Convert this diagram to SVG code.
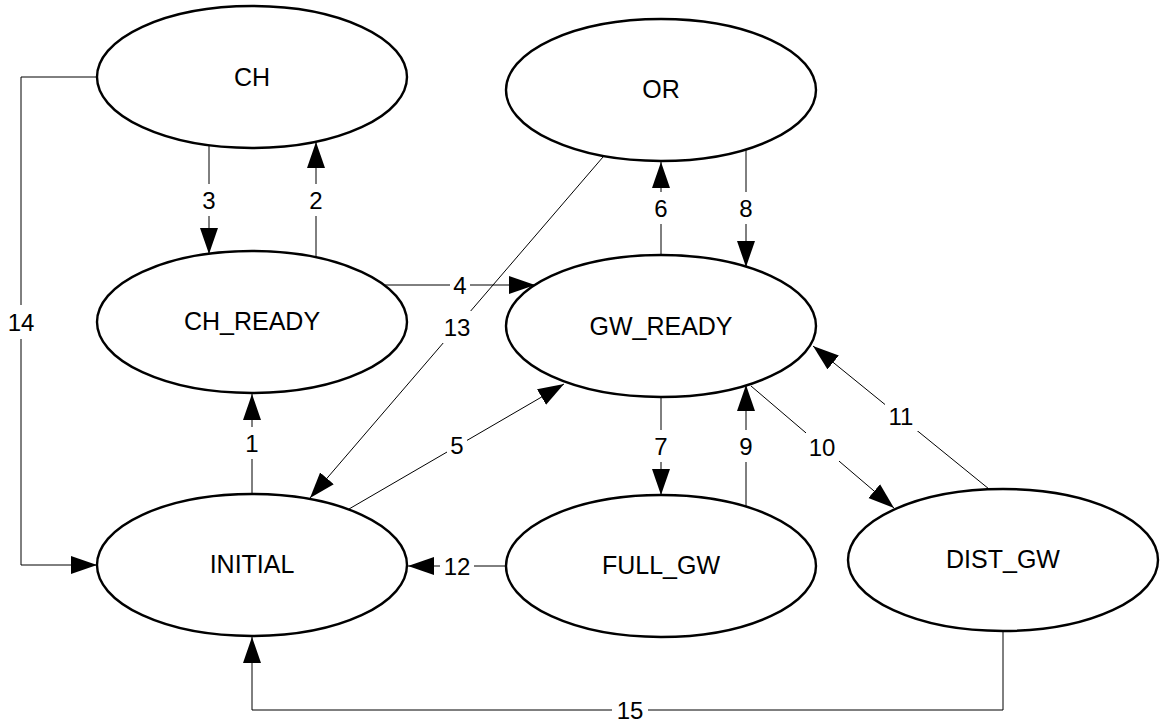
<svg xmlns="http://www.w3.org/2000/svg" width="1160" height="723" viewBox="0 0 1160 723">
  <style>
    .node { fill: #fff; stroke: #000; stroke-width: 2.4; }
    .ntext { font-family: "Liberation Sans", Arial, sans-serif; font-size: 25px; fill: #000; text-anchor: middle; }
    .edge { fill: none; stroke: #000; stroke-width: 1; }
    .lbg { fill: #fff; stroke: none; }
    .ltext { font-family: "Liberation Sans", Arial, sans-serif; font-size: 24px; fill: #000; text-anchor: middle; }
  </style>
  <defs>
    <marker id="arrow" markerUnits="userSpaceOnUse" markerWidth="27" markerHeight="19" refX="26" refY="9.5" orient="auto">
      <path d="M0,0.5 L26,9.5 L0,18.5 z" fill="#000"/>
    </marker>
  </defs>
  <rect width="1160" height="723" fill="#fff"/>

  <!-- transitions -->
  <g id="connectors">
    <line id="e1" class="edge" x1="252" y1="494" x2="252" y2="394" marker-end="url(#arrow)"/>
    <line id="e2" class="edge" x1="316" y1="257" x2="316" y2="142" marker-end="url(#arrow)"/>
    <line id="e3" class="edge" x1="209" y1="145" x2="209" y2="254" marker-end="url(#arrow)"/>
    <line id="e4" class="edge" x1="384" y1="285" x2="535" y2="285" marker-end="url(#arrow)"/>
    <line id="e5" class="edge" x1="349" y1="509" x2="564" y2="384" marker-end="url(#arrow)"/>
    <line id="e6" class="edge" x1="661" y1="255" x2="661" y2="162" marker-end="url(#arrow)"/>
    <line id="e7" class="edge" x1="661" y1="397" x2="661" y2="495" marker-end="url(#arrow)"/>
    <line id="e8" class="edge" x1="746" y1="150" x2="746" y2="267" marker-end="url(#arrow)"/>
    <line id="e9" class="edge" x1="746" y1="507" x2="746" y2="385" marker-end="url(#arrow)"/>
    <line id="e10" class="edge" x1="751" y1="386" x2="894" y2="508" marker-end="url(#arrow)"/>
    <line id="e11" class="edge" x1="989" y1="489" x2="813" y2="346" marker-end="url(#arrow)"/>
    <line id="e12" class="edge" x1="506" y1="566" x2="408" y2="566" marker-end="url(#arrow)"/>
    <line id="e13" class="edge" x1="603" y1="157" x2="310" y2="498" marker-end="url(#arrow)"/>
    <polyline id="e14" class="edge" points="97,77 21,77 21,565 97,565" marker-end="url(#arrow)"/>
    <polyline id="e15" class="edge" points="1003,632 1003,710 252,710 252,637" marker-end="url(#arrow)"/>

    <!-- transition numbers on white plates -->
    <g id="labels">
      <rect class="lbg" x="242" y="427" width="20" height="32"/>
      <text class="ltext" x="252" y="451.6">1</text>
      <rect class="lbg" x="306" y="184" width="20" height="32"/>
      <text class="ltext" x="316" y="208.6">2</text>
      <rect class="lbg" x="199" y="184" width="20" height="32"/>
      <text class="ltext" x="209" y="208.6">3</text>
      <rect class="lbg" x="450" y="272" width="20" height="26"/>
      <text class="ltext" x="460" y="293.6">4</text>
      <rect class="lbg" x="447" y="431" width="20" height="28"/>
      <text class="ltext" x="457" y="453.6">5</text>
      <rect class="lbg" x="651" y="192" width="20" height="32"/>
      <text class="ltext" x="661" y="216.6">6</text>
      <rect class="lbg" x="651" y="430" width="20" height="32"/>
      <text class="ltext" x="661" y="454.6">7</text>
      <rect class="lbg" x="736" y="192" width="20" height="32"/>
      <text class="ltext" x="746" y="216.6">8</text>
      <rect class="lbg" x="736" y="430" width="20" height="32"/>
      <text class="ltext" x="746" y="454.6">9</text>
      <rect class="lbg" x="806" y="432" width="33" height="30"/>
      <text class="ltext" x="822" y="455.6">10</text>
      <rect class="lbg" x="885" y="401" width="33" height="30"/>
      <text class="ltext" x="901" y="424.6">11</text>
      <rect class="lbg" x="440" y="552" width="34" height="28"/>
      <text class="ltext" x="457" y="574.6">12</text>
      <rect class="lbg" x="440" y="311" width="34" height="32"/>
      <text class="ltext" x="457" y="335.6">13</text>
      <rect class="lbg" x="5" y="305" width="33" height="34"/>
      <text class="ltext" x="21" y="330.6">14</text>
      <rect class="lbg" x="612" y="696" width="36" height="28"/>
      <text class="ltext" x="630" y="718.6">15</text>
    </g>
  </g>

  <!-- states -->
  <g id="CH">
    <ellipse class="node" cx="252" cy="77" rx="155" ry="71"/>
    <text class="ntext" x="252" y="86">CH</text>
  </g>
  <g id="CH_READY">
    <ellipse class="node" cx="252" cy="322" rx="155" ry="71"/>
    <text class="ntext" x="252" y="330">CH_READY</text>
  </g>
  <g id="OR">
    <ellipse class="node" cx="661" cy="90" rx="155" ry="71"/>
    <text class="ntext" x="661" y="98">OR</text>
  </g>
  <g id="GW_READY">
    <ellipse class="node" cx="661" cy="326" rx="155" ry="71"/>
    <text class="ntext" x="661" y="335">GW_READY</text>
  </g>
  <g id="INITIAL">
    <ellipse class="node" cx="252" cy="565" rx="155" ry="71"/>
    <text class="ntext" x="252" y="573">INITIAL</text>
  </g>
  <g id="FULL_GW">
    <ellipse class="node" cx="661" cy="566" rx="155" ry="71"/>
    <text class="ntext" x="661" y="574">FULL_GW</text>
  </g>
  <g id="DIST_GW">
    <ellipse class="node" cx="1003" cy="560" rx="155" ry="71"/>
    <text class="ntext" x="1003" y="568">DIST_GW</text>
  </g>
</svg>
